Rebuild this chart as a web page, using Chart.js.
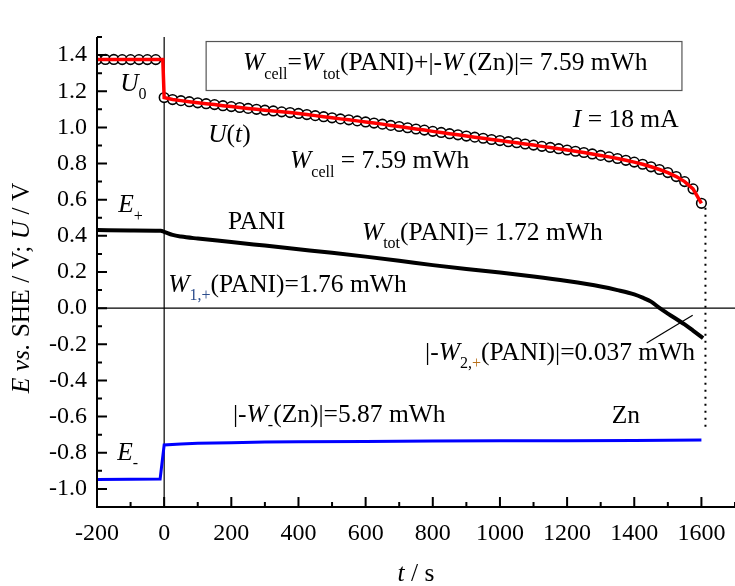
<!DOCTYPE html>
<html>
<head>
<meta charset="utf-8">
<script src="https://cdn.jsdelivr.net/npm/chart.js@4.4.0/dist/chart.umd.min.js"></script>
<style>
  html, body { margin: 0; padding: 0; background: #fff; }
  canvas { display: block; }
</style>
</head>
<body>
<canvas id="chart" width="735" height="586"></canvas>
<script>
// cell voltage U(t), one marker every 25 s
const tCell = [-200, -175, -150, -125, -100, -75, -50, -25,
  0, 25, 50, 75, 100, 125, 150, 175, 200, 225, 250, 275, 300, 325, 350, 375,
  400, 425, 450, 475, 500, 525, 550, 575, 600, 625, 650, 675, 700, 725, 750, 775,
  800, 825, 850, 875, 900, 925, 950, 975, 1000, 1025, 1050, 1075, 1100, 1125, 1150, 1175,
  1200, 1225, 1250, 1275, 1300, 1325, 1350, 1375, 1400, 1425, 1450, 1475, 1500, 1525, 1550, 1575, 1600];
const uCell = [1.376, 1.376, 1.376, 1.375, 1.375, 1.375, 1.375, 1.375,
  1.165, 1.154, 1.148, 1.142, 1.136, 1.131, 1.126, 1.120, 1.115, 1.110, 1.105, 1.100, 1.095, 1.091, 1.086, 1.082,
  1.077, 1.071, 1.065, 1.059, 1.053, 1.047, 1.042, 1.036, 1.030, 1.024, 1.018, 1.011, 1.005, 0.998, 0.991, 0.985,
  0.978, 0.972, 0.965, 0.959, 0.952, 0.946, 0.940, 0.933, 0.927, 0.921, 0.915, 0.908, 0.902, 0.895, 0.889, 0.882,
  0.875, 0.868, 0.861, 0.853, 0.845, 0.837, 0.828, 0.818, 0.808, 0.796, 0.782, 0.767, 0.750, 0.728, 0.700, 0.660, 0.580];
// the red line drops just before t = 0
const tDrop = [-4];
const uDrop = [1.375];

// PANI electrode E+
const tPani = [-200, -100, -10, 0, 25, 50, 100, 200, 300, 400, 500, 600, 700, 800, 900, 1000,
  1100, 1200, 1300, 1350, 1400, 1425, 1450, 1476, 1500, 1550, 1575, 1605];
const ePani = [0.432, 0.430, 0.428, 0.422, 0.405, 0.396, 0.385, 0.366, 0.346, 0.326, 0.306, 0.285, 0.262, 0.238, 0.216, 0.197,
  0.175, 0.150, 0.120, 0.100, 0.076, 0.058, 0.036, 0.000, -0.030, -0.090, -0.124, -0.166];

// Zn electrode E-
const tZn = [-200, -100, -12, 0, 50, 100, 200, 300, 400, 600, 800, 1000, 1200, 1400, 1600];
const eZn = [-0.948, -0.947, -0.945, -0.757, -0.752, -0.748, -0.744, -0.741, -0.739, -0.737, -0.735, -0.734, -0.733, -0.732, -0.730];

// dotted end marker and the leader line for |-W2,+|
const tDot = [1612, 1612];
const eDot = [0.555, -0.68];
const tLead = [1437, 1574];
const eLead = [-0.193, -0.039];

const xTicks = [-200, 0, 200, 400, 600, 800, 1000, 1200, 1400, 1600];
const xMinor = [-100, 100, 300, 500, 700, 900, 1100, 1300, 1500, 1700];
const yTicks = [-1.0, -0.8, -0.6, -0.4, -0.2, 0.0, 0.2, 0.4, 0.6, 0.8, 1.0, 1.2, 1.4];
const yMinor = [-1.1, -0.9, -0.7, -0.5, -0.3, -0.1, 0.1, 0.3, 0.5, 0.7, 0.9, 1.1, 1.3, 1.5];

const SERIF = '"Liberation Serif", "Times New Roman", serif';
const NOTE = 25.5;
const pts = (xs, ys) => xs.map((x, i) => ({ x, y: ys[i] }));

const redLine = pts(tCell, uCell);
redLine.splice(8, 0, ...pts(tDrop, uDrop));

// rich text: W with subscripts etc.
function rich(ctx, x, y, parts, size) {
  let cx = x;
  for (const p of parts) {
    const s = p.sub ? Math.round(size * 0.64) : size;
    ctx.font = (p.it ? 'italic ' : '') + s + 'px ' + SERIF;
    ctx.fillStyle = p.c || '#000';
    ctx.fillText(p.t, cx, y + (p.sub ? size * 0.32 : 0));
    cx += ctx.measureText(p.t).width;
  }
  return cx - x;
}

function textWidth(ctx, parts, size) {
  let w = 0;
  for (const p of parts) {
    const s = p.sub ? Math.round(size * 0.64) : size;
    ctx.font = (p.it ? 'italic ' : '') + s + 'px ' + SERIF;
    w += ctx.measureText(p.t).width;
  }
  return w;
}

const notes = [
  { x: -131, y: 1.204, parts: [{ t: 'U', it: 1 }, { t: '0', sub: 1 }] },
  { x: 131, y: 0.917, parts: [{ t: 'U', it: 1 }, { t: '(' }, { t: 't', it: 1 }, { t: ')' }] },
  { x: 375, y: 0.773, parts: [{ t: 'W', it: 1 }, { t: 'cell', sub: 1 }, { t: ' = 7.59 mWh' }] },
  { x: 1217, y: 1.0, parts: [{ t: 'I', it: 1 }, { t: ' = 18 mA' }] },
  { x: -137, y: 0.53, parts: [{ t: 'E', it: 1 }, { t: '+', sub: 1 }] },
  { x: 190, y: 0.436, parts: [{ t: 'PANI' }] },
  { x: 589, y: 0.376, parts: [{ t: 'W', it: 1 }, { t: 'tot', sub: 1 }, { t: '(PANI)= 1.72 mWh' }] },
  { x: 12, y: 0.088, parts: [{ t: 'W', it: 1 }, { t: '1,+', sub: 1, c: '#2b4c8c' }, { t: '(PANI)=1.76 mWh' }] },
  { x: 777, y: -0.287, parts: [{ t: '|-' }, { t: 'W', it: 1 }, { t: '2,', sub: 1 }, { t: '+', sub: 1, c: '#b8701a' }, { t: '(PANI)|=0.037 mWh' }] },
  { x: 205, y: -0.63, parts: [{ t: '|-' }, { t: 'W', it: 1 }, { t: '-', sub: 1 }, { t: '(Zn)|=5.87 mWh' }] },
  { x: 1333, y: -0.635, parts: [{ t: 'Zn' }] },
  { x: -140, y: -0.84, parts: [{ t: 'E', it: 1 }, { t: '-', sub: 1 }] },
];

const decor = {
  id: 'decor',
  beforeDatasetsDraw(chart) {
    const { ctx, chartArea: a, scales: { x, y } } = chart;
    ctx.save();
    ctx.strokeStyle = '#000';
    ctx.lineWidth = 1.2;
    ctx.beginPath();
    const x0 = x.getPixelForValue(0), y0 = y.getPixelForValue(0);
    ctx.moveTo(x0, a.top); ctx.lineTo(x0, a.bottom);
    ctx.moveTo(a.left, y0); ctx.lineTo(a.right, y0);
    ctx.stroke();
    ctx.restore();
  },
  afterDatasetsDraw(chart) {
    const { ctx, chartArea: a, scales: { x, y } } = chart;
    ctx.save();
    // axes with inward ticks
    ctx.strokeStyle = '#000';
    ctx.lineWidth = 2;
    ctx.beginPath();
    ctx.moveTo(a.left, a.top); ctx.lineTo(a.left, a.bottom); ctx.lineTo(a.right, a.bottom);
    xTicks.forEach(v => { const p = x.getPixelForValue(v); ctx.moveTo(p, a.bottom); ctx.lineTo(p, a.bottom - 10); });
    xMinor.forEach(v => { const p = x.getPixelForValue(v); ctx.moveTo(p, a.bottom); ctx.lineTo(p, a.bottom - 5); });
    yTicks.forEach(v => { const p = y.getPixelForValue(v); ctx.moveTo(a.left, p); ctx.lineTo(a.left + 10, p); });
    yMinor.forEach(v => { const p = y.getPixelForValue(v); ctx.moveTo(a.left, p); ctx.lineTo(a.left + 5, p); });
    ctx.stroke();

    // formula box
    const bl = x.getPixelForValue(125), br = x.getPixelForValue(1542);
    const bt = y.getPixelForValue(1.475), bb = y.getPixelForValue(1.204);
    ctx.fillStyle = '#fff';
    ctx.fillRect(bl, bt, br - bl, bb - bt);
    ctx.strokeStyle = '#555';
    ctx.lineWidth = 1.2;
    ctx.strokeRect(bl, bt, br - bl, bb - bt);
    ctx.textBaseline = 'alphabetic';
    rich(ctx, x.getPixelForValue(235), y.getPixelForValue(1.315), [
      { t: 'W', it: 1 }, { t: 'cell', sub: 1 }, { t: '=' }, { t: 'W', it: 1 }, { t: 'tot', sub: 1 },
      { t: '(PANI)+|-' }, { t: 'W', it: 1 }, { t: '-', sub: 1 }, { t: '(Zn)|= 7.59 mWh' }], NOTE);

    notes.forEach(n => rich(ctx, x.getPixelForValue(n.x), y.getPixelForValue(n.y), n.parts, NOTE));

    // axis titles
    ctx.save();
    ctx.translate(29, 288);
    ctx.rotate(-Math.PI / 2);
    const title = [{ t: 'E', it: 1 }, { t: ' ' }, { t: 'vs.', it: 1 }, { t: ' SHE / V; ' }, { t: 'U', it: 1 }, { t: ' / V' }];
    rich(ctx, -textWidth(ctx, title, NOTE) / 2, 0, title, NOTE);
    ctx.restore();

    const xt = [{ t: 't', it: 1 }, { t: ' / s' }];
    rich(ctx, 416 - textWidth(ctx, xt, NOTE) / 2, 581, xt, NOTE);
    ctx.restore();
  }
};

new Chart(document.getElementById('chart'), {
  type: 'scatter',
  data: {
    datasets: [
      {
        label: 'U line',
        data: redLine,
        showLine: true,
        borderColor: '#ff0000',
        borderWidth: 3.5,
        pointRadius: 0,
        order: 0,
      },
      {
        label: 'U markers',
        data: pts(tCell, uCell),
        showLine: false,
        pointRadius: 4.8,
        pointBorderWidth: 1.6,
        pointBorderColor: '#000',
        pointBackgroundColor: '#fff',
        order: 1,
      },
      {
        label: 'PANI',
        data: pts(tPani, ePani),
        showLine: true,
        cubicInterpolationMode: 'monotone',
        borderColor: '#000',
        borderWidth: 4,
        pointRadius: 0,
        order: 2,
      },
      {
        label: 'Zn',
        data: pts(tZn, eZn),
        showLine: true,
        borderColor: '#0000ff',
        borderWidth: 3,
        pointRadius: 0,
        order: 3,
      },
      {
        label: 'end',
        data: pts(tDot, eDot),
        showLine: true,
        borderColor: '#000',
        borderWidth: 2,
        borderDash: [2, 5],
        pointRadius: 0,
        order: 4,
      },
      {
        label: 'leader',
        data: pts(tLead, eLead),
        showLine: true,
        borderColor: '#000',
        borderWidth: 1.2,
        pointRadius: 0,
        order: 5,
      },
    ],
  },
  options: {
    responsive: false,
    animation: false,
    // no extra room for marker overflow, the plot runs to the right edge
    layout: { autoPadding: false, padding: { top: 37, right: 0, left: 0, bottom: 0 } },
    plugins: { legend: { display: false }, tooltip: { enabled: false } },
    scales: {
      x: {
        type: 'linear',
        min: -200,
        max: 1700,
        grid: { display: false, drawTicks: false },
        border: { display: false },
        afterBuildTicks: s => { s.ticks = xTicks.map(v => ({ value: v })); },
        afterFit: s => { s.height = 79; s.paddingLeft = 0; s.paddingRight = 0; },
        ticks: {
          autoSkip: false,
          maxRotation: 0,
          padding: 12,
          color: '#000',
          font: { family: SERIF, size: 24 },
          callback: v => String(v),
        },
      },
      y: {
        type: 'linear',
        min: -1.1,
        max: 1.5,
        grid: { display: false, drawTicks: false },
        border: { display: false },
        afterBuildTicks: s => { s.ticks = yTicks.map(v => ({ value: v })); },
        afterFit: s => { s.width = 97; s.paddingTop = 0; s.paddingBottom = 0; },
        ticks: {
          autoSkip: false,
          padding: 10,
          color: '#000',
          font: { family: SERIF, size: 24 },
          callback: v => v.toFixed(1),
        },
      },
    },
  },
  plugins: [decor],
});
</script>
</body>
</html>
